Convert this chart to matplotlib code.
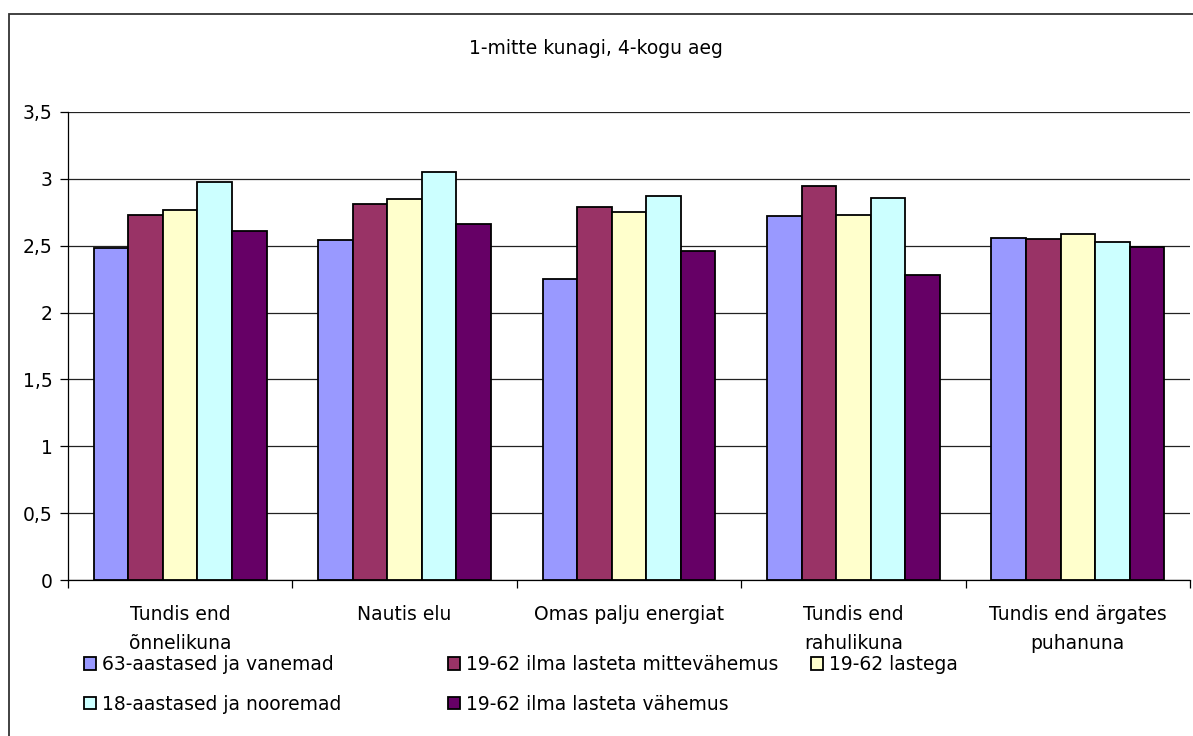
import numpy as np
import matplotlib
matplotlib.use("Agg")
import matplotlib.pyplot as plt
from matplotlib.patches import Rectangle

# data
categories = ["Tundis end\nõnnelikuna", "Nautis elu", "Omas palju energiat",
              "Tundis end\nrahulikuna", "Tundis end ärgates\npuhanuna"]
series_names = ["63-aastased ja vanemad", "19-62 ilma lasteta mittevähemus",
                "19-62 lastega", "18-aastased ja nooremad",
                "19-62 ilma lasteta vähemus"]
vanemad = [2.48, 2.54, 2.25, 2.72, 2.56]
mittevahemus = [2.73, 2.81, 2.79, 2.95, 2.55]
lastega = [2.77, 2.85, 2.75, 2.73, 2.59]
nooremad = [2.98, 3.05, 2.87, 2.86, 2.53]
vahemus = [2.61, 2.66, 2.46, 2.28, 2.49]
yticks = [0, 0.5, 1, 1.5, 2, 2.5, 3, 3.5]
ytick_labels = ["0", "0,5", "1", "1,5", "2", "2,5", "3", "3,5"]
title = "1-mitte kunagi, 4-kogu aeg"

colors = ["#9999FF", "#993366", "#FFFFCC", "#CCFFFF", "#660066"]
values = [vanemad, mittevahemus, lastega, nooremad, vahemus]

plt.rcParams['font.family'] = ['DejaVu Sans']
FS = 13.5

fig = plt.figure(figsize=(11.93, 7.36), dpi=100)
ax = fig.add_axes([68/1193, 1-580/736, (1190-68)/1193, (580-112)/736])

n = len(categories)
x = np.arange(n) + 0.5
w = 0.154
bars = []
for k, (vals, c) in enumerate(zip(values, colors)):
    b = ax.bar(x + (k - 2) * w, vals, width=w, color=c, edgecolor='black',
               linewidth=1.3, zorder=3)
    bars.append(b)

ax.set_xlim(0, n)
ax.set_ylim(0, 3.5)
ax.set_yticks(yticks)
ax.set_yticklabels(ytick_labels, fontsize=FS)
ax.yaxis.grid(True, color='#222222', linewidth=0.9, zorder=0)
ax.set_xticks(np.arange(n + 1))
ax.set_xticklabels([])
ax.set_xticks(x, minor=True)
ax.set_xticklabels(categories, minor=True, fontsize=FS, va='top', linespacing=1.65)
ax.tick_params(axis='x', which='minor', length=0, pad=18)
ax.tick_params(axis='x', which='major', length=6, direction='out', width=0.9)
ax.tick_params(axis='y', length=6, direction='out', width=0.9, pad=5)
for s in ['top', 'right']:
    ax.spines[s].set_visible(False)
ax.spines['left'].set_linewidth(0.9)
ax.spines['bottom'].set_linewidth(0.9)

fig.text(0.4996, 1 - 48/736, title, ha='center', va='center', fontsize=FS)

# legend, three columns like the original
cols = [[0, 3], [1, 4], [2]]
col_x = [84, 448, 811]
for ci, idx in enumerate(cols):
    fig.legend([bars[i] for i in idx], [series_names[i] for i in idx],
               loc='upper left', bbox_to_anchor=(col_x[ci]/1193, 1 - 655/736),
               frameon=False, fontsize=FS, handlelength=0.65, handleheight=0.65,
               handletextpad=0.3, labelspacing=1.1, borderpad=0, borderaxespad=0)

# outer chart frame
fig.add_artist(Rectangle((9/1193, -0.1), 1.2, 1.1 - 14/736, transform=fig.transFigure,
                         fill=False, edgecolor='#333333', linewidth=1.3, clip_on=False))

fig.savefig("out.png", dpi=100)
